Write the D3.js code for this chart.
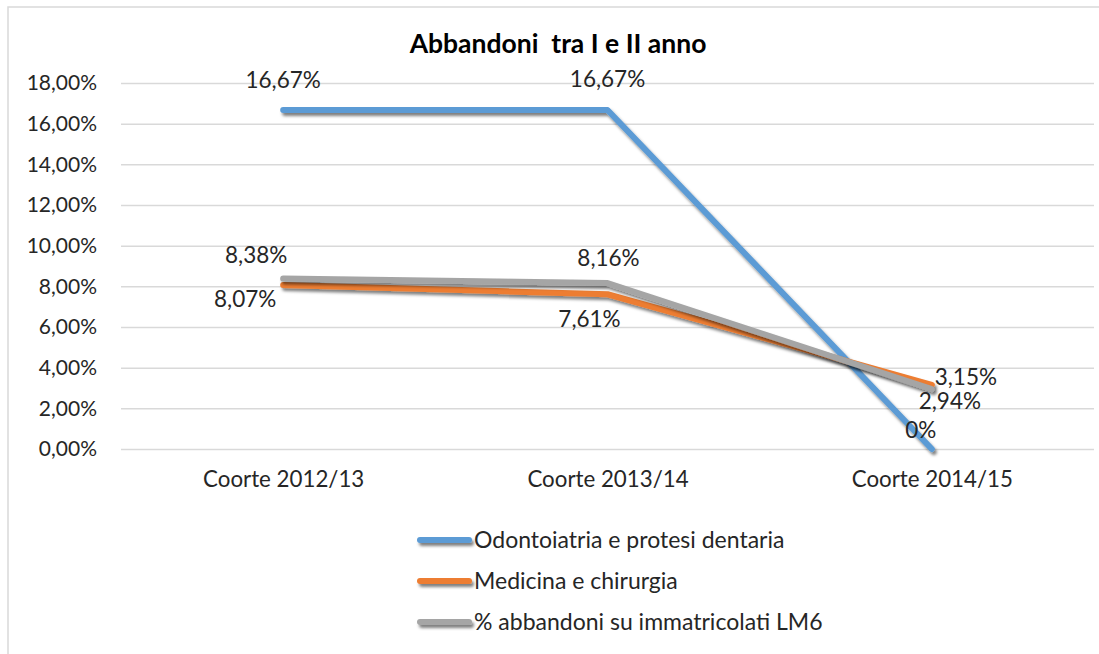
<!DOCTYPE html>
<html>
<head>
<meta charset="utf-8">
<script src="https://cdn.jsdelivr.net/npm/d3@7"></script>
<style>
  html, body { margin: 0; padding: 0; background: #fff; }
  svg text { font-family: Lato, "Open Sans", sans-serif; fill: #262626; }
</style>
</head>
<body>
<svg id="chart" width="1099" height="654"></svg>
<script>
// ---- data ----
const categories = ["Coorte 2012/13", "Coorte 2013/14", "Coorte 2014/15"];
const seriesNames = ["Odontoiatria e protesi dentaria", "Medicina e chirurgia", "% abbandoni su immatricolati LM6"];
const odontoiatria = [16.67, 16.67, 0];
const medicina = [8.07, 7.61, 3.15];
const lm6 = [8.38, 8.16, 2.94];
const yTicks = [0, 2, 4, 6, 8, 10, 12, 14, 16, 18];
const title = "Abbandoni\u00a0 tra I e II anno";

// ---- style / layout ----
const colors = ["#5B9BD5", "#ED7D31", "#A5A5A5"];
// label offsets (dx, dy) from each point, per series
const labelOffsets = [
  [[0, -22], [0, -23], [-11, -11]],
  [[-38, 22], [-18, 33], [34, 0]],
  [[-27, -16], [1, -17], [18, 20]]
];

const svg = d3.select("#chart");
const W = 1099, H = 654;
const plot = { left: 121, right: 1094, top: 83, bottom: 449 };

const locale = d3.formatLocale({ decimal: ",", thousands: ".", grouping: [3], currency: ["", "€"] });
const f2 = locale.format(".2f");
const pct = v => f2(v) + "%";
const lblFmt = v => v === 0 ? "0%" : f2(v) + "%";

// frame
svg.append("rect").attr("x", 8).attr("y", 7).attr("width", W).attr("height", H)
  .attr("fill", "#fff").attr("stroke", "#d9d9d9").attr("stroke-width", 1.5);

const defs = svg.append("defs");
const filt = defs.append("filter").attr("id", "shadow")
  .attr("filterUnits", "userSpaceOnUse")
  .attr("x", 0).attr("y", 0).attr("width", W).attr("height", H);
filt.append("feDropShadow").attr("dx", 2).attr("dy", 3).attr("stdDeviation", 1.8)
  .attr("flood-color", "#000").attr("flood-opacity", 0.5);

const x = d3.scalePoint().domain(categories).range([plot.left, plot.right]).padding(0.5);
const y = d3.scaleLinear().domain([0, 18]).range([plot.bottom, plot.top]);

// gridlines + y labels via axis
const yAxis = d3.axisLeft(y).tickValues(yTicks).tickFormat(pct)
  .tickSize(-(plot.right - plot.left)).tickPadding(24);
const gy = svg.append("g").attr("transform", `translate(${plot.left},0)`).call(yAxis);
gy.select(".domain").remove();
gy.selectAll(".tick line").attr("stroke", "#d9d9d9").attr("stroke-width", 1.5);
gy.selectAll(".tick text").attr("font-size", 21).attr("fill", "#262626")
  .attr("font-family", "Lato, sans-serif");

// x labels
const xAxis = d3.axisBottom(x).tickSize(0).tickPadding(22);
const gx = svg.append("g").attr("transform", `translate(0,${plot.bottom})`).call(xAxis);
gx.select(".domain").remove();
gx.selectAll(".tick text").attr("font-size", 22.3).attr("fill", "#262626")
  .attr("font-family", "Lato, sans-serif");

// lines
const allSeries = [odontoiatria, medicina, lm6];
const line = d3.line().x((d, i) => x(categories[i])).y(d => y(d));
allSeries.forEach((vals, s) => {
  svg.append("path").datum(vals).attr("d", line)
    .attr("fill", "none").attr("stroke", colors[s]).attr("stroke-width", 6)
    .attr("stroke-linejoin", "round").attr("stroke-linecap", "round")
    .attr("filter", "url(#shadow)");
});

// data labels
allSeries.forEach((vals, s) => {
  svg.append("g").selectAll("text").data(vals).join("text")
    .attr("x", (d, i) => x(categories[i]) + labelOffsets[s][i][0])
    .attr("y", (d, i) => y(d) + labelOffsets[s][i][1])
    .attr("text-anchor", "middle").attr("font-size", 22.5)
    .text(d => lblFmt(d));
});

// title
svg.append("text").attr("x", 558).attr("y", 53).attr("text-anchor", "middle")
  .attr("font-size", 26.5).attr("font-weight", "bold").style("fill", "#000")
  .text(title);

// legend
const legY = d3.scalePoint().domain(seriesNames).range([540, 622]);
const leg = svg.append("g");
seriesNames.forEach((n, s) => {
  leg.append("line").attr("x1", 420).attr("x2", 469)
    .attr("y1", legY(n)).attr("y2", legY(n))
    .attr("stroke", colors[s]).attr("stroke-width", 6).attr("stroke-linecap", "round")
    .attr("filter", "url(#shadow)");
  leg.append("text").attr("x", 474).attr("y", legY(n)).attr("dy", "0.35em")
    .attr("font-size", 23).text(n);
});
</script>
</body>
</html>
